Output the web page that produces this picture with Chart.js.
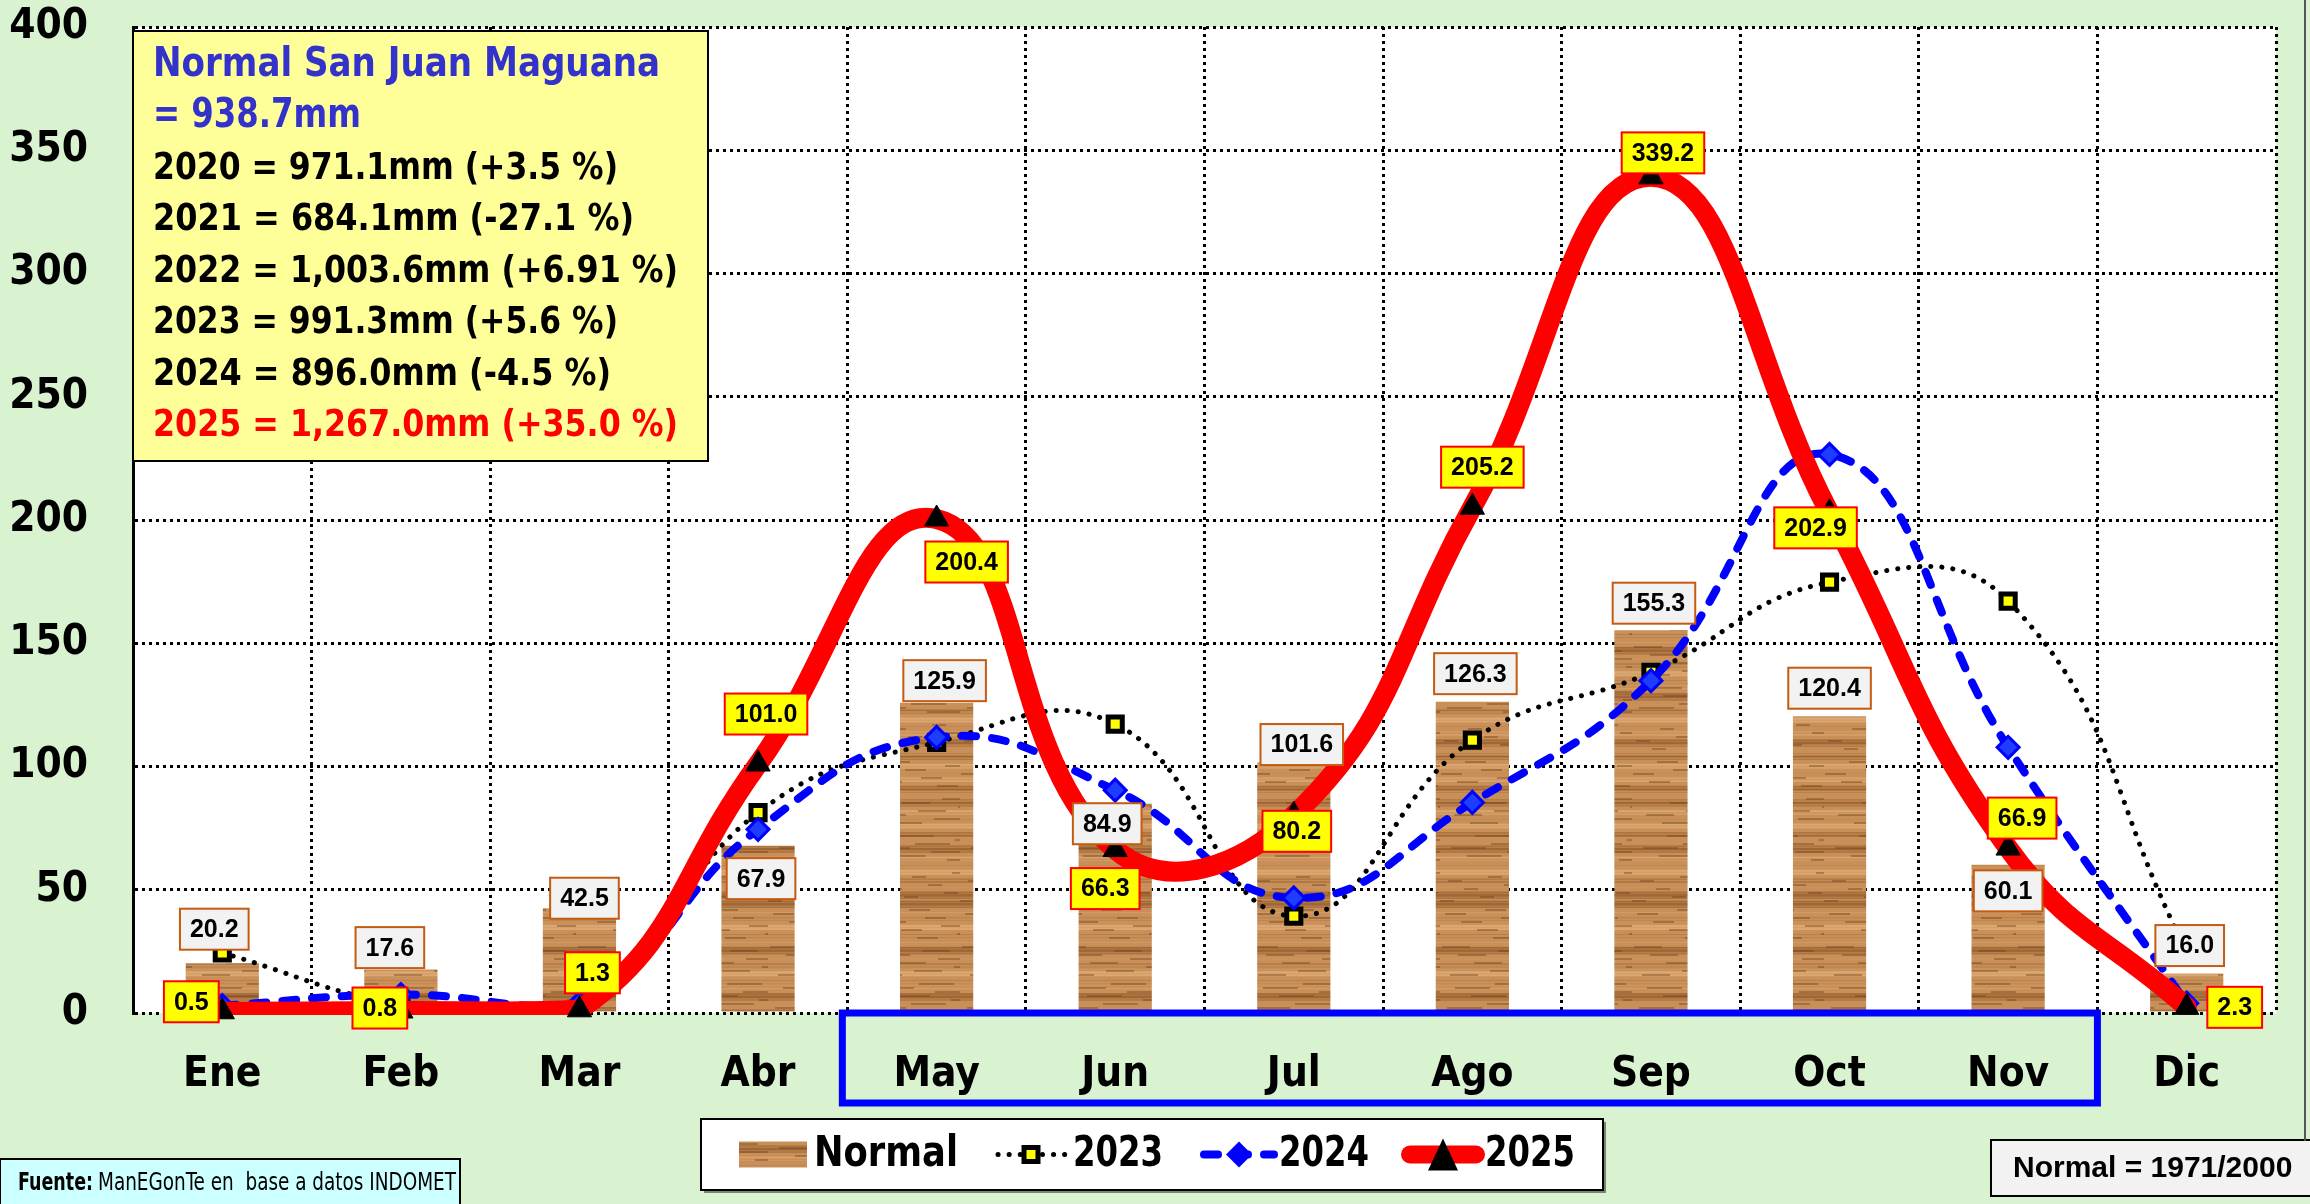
<!DOCTYPE html>
<html>
<head>
<meta charset="utf-8">
<script src="https://cdn.jsdelivr.net/npm/chart.js@4.4.1/dist/chart.umd.min.js"></script>
<style>
  html, body { margin: 0; padding: 0; background: #d9f2d0; }
  canvas { display: block; }
</style>
</head>
<body>
<canvas id="lluviaChart" width="2310" height="1204"></canvas>
<script>
const meses = ['Ene', 'Feb', 'Mar', 'Abr', 'May', 'Jun', 'Jul', 'Ago', 'Sep', 'Oct', 'Nov', 'Dic'];
const normal = [20.2, 17.6, 42.5, 67.9, 125.9, 84.9, 101.6, 126.3, 155.3, 120.4, 60.1, 16.0];
const lluvia2023 = [24.4, 3.5, 0.0, 81.3, 109.8, 117.2, 39.3, 110.7, 138.2, 174.8, 167.1, 25.0];
const lluvia2024 = [3.0, 7.5, 4.0, 74.5, 111.8, 90.4, 46.7, 85.4, 134.8, 226.6, 107.8, 4.0];
const lluvia2025 = [0.5, 0.8, 1.3, 101.0, 200.4, 66.3, 80.2, 205.2, 339.2, 202.9, 66.9, 2.3];
const yMin = 0, yMax = 400, yPaso = 50;

const tituloNota = ['Normal San Juan Maguana', '= 938.7mm'];
const lineasNota = [
    '2020 = 971.1mm (+3.5 %)',
    '2021 = 684.1mm (-27.1 %)',
    '2022 = 1,003.6mm (+6.91 %)',
    '2023 = 991.3mm (+5.6 %)',
    '2024 = 896.0mm (-4.5 %)',
    '2025 = 1,267.0mm (+35.0 %)'
];

// where each label box sits relative to its bar top / point (px)
const posNormal = [[-8, -34], [-11, -22], [5, -10], [3, 33], [8, -22], [-8, 20], [8, -18], [3, -28], [3, -27], [0, -28], [0, 26], [3, -28]];
const pos2025 = [[-31, -10], [-21, -3], [13, -37], [8, -50], [30, 43], [-10, 39], [3, 16], [10, -40], [12, -24], [-14, 15], [14, -30], [48, 0]];

const NARROW = '"Liberation Sans Narrow", "DejaVu Sans Condensed", "Roboto", sans-serif';
const ARIAL = '"Liberation Sans", Arial, sans-serif';

function crearMadera() {
    const c = document.createElement('canvas');
    c.width = 96; c.height = 300;
    const g = c.getContext('2d');
    g.fillStyle = '#c88f58';
    g.fillRect(0, 0, c.width, c.height);
    for (let y = 0; y < c.height; y++) {
        const t = Math.sin(y * 0.41) * 0.45 + Math.sin(y * 0.13 + 1.3) * 0.35 + Math.sin(y * 1.9 + 0.4) * 0.2;
        if (t > 0.2) {
            g.fillStyle = 'rgba(140, 85, 38,' + Math.min(0.7, (t - 0.2) * 1.3).toFixed(2) + ')';
            g.fillRect(0, y, c.width, 1);
        } else if (t < -0.25) {
            g.fillStyle = 'rgba(228, 178, 125,' + Math.min(0.7, (-t - 0.25) * 1.3).toFixed(2) + ')';
            g.fillRect(0, y, c.width, 1);
        }
    }
    for (let k = 0; k < 60; k++) {
        const y = (k * 37) % c.height;
        const x = (k * 53) % c.width;
        g.fillStyle = 'rgba(110, 62, 25, 0.4)';
        g.fillRect(x, y, 14 + (k % 4) * 7, 2);
    }
    return c;
}
const texturaCanvas = crearMadera();
const madera = document.getElementById('lluviaChart').getContext('2d').createPattern(texturaCanvas, 'repeat');

function etiqueta(ctx, texto, cx, cy, fondo, borde) {
    ctx.font = 'bold 25px ' + ARIAL;
    const w = ctx.measureText(texto).width + 20, h = 41;
    ctx.fillStyle = fondo;
    ctx.fillRect(cx - w / 2, cy - h / 2, w, h);
    ctx.strokeStyle = borde;
    ctx.lineWidth = 2;
    ctx.strokeRect(cx - w / 2, cy - h / 2, w, h);
    ctx.fillStyle = '#000';
    ctx.textAlign = 'center';
    ctx.textBaseline = 'middle';
    ctx.fillText(texto, cx, cy + 1);
}

function triangulo(ctx, x, y, r) {
    ctx.beginPath();
    ctx.moveTo(x, y - r);
    ctx.lineTo(x + r * 0.75, y + r * 0.6);
    ctx.lineTo(x - r * 0.75, y + r * 0.6);
    ctx.closePath();
    ctx.fill();
}

const fondoPlugin = {
    id: 'fondo',
    beforeDraw(chart) {
        const { ctx, chartArea: a } = chart;
        ctx.save();
        ctx.fillStyle = '#d9f2d0';
        ctx.fillRect(0, 0, chart.width, chart.height);
        ctx.fillStyle = '#ffffff';
        ctx.fillRect(a.left, a.top, a.right - a.left, a.bottom - a.top);
        ctx.restore();
    }
};

const etiquetasPlugin = {
    id: 'etiquetas',
    afterDatasetsDraw(chart) {
        const ctx = chart.ctx;
        ctx.save();
        chart.getDatasetMeta(0).data.forEach((el, i) => {
            etiqueta(ctx, normal[i].toFixed(1), el.x + posNormal[i][0], el.y + posNormal[i][1], '#f2f2f2', '#c55a11');
        });
        chart.getDatasetMeta(4).data.forEach((el, i) => {
            etiqueta(ctx, lluvia2025[i].toFixed(1), el.x + pos2025[i][0], el.y + pos2025[i][1], '#ffff00', '#ff0000');
        });
        ctx.restore();
    }
};

const adornosPlugin = {
    id: 'adornos',
    afterDraw(chart) {
        const ctx = chart.ctx;
        const a = chart.chartArea;
        const x = chart.scales.x;
        const mitad = (x.getPixelForValue(1) - x.getPixelForValue(0)) / 2;
        ctx.save();

        // nota amarilla
        ctx.fillStyle = '#ffff99';
        ctx.fillRect(a.left, 31, 575, 430);
        ctx.strokeStyle = '#000';
        ctx.lineWidth = 2;
        ctx.strokeRect(a.left, 31, 575, 430);
        ctx.textAlign = 'left';
        ctx.textBaseline = 'middle';
        ctx.font = 'bold 40px ' + NARROW;
        ctx.fillStyle = '#3333cc';
        ctx.fillText(tituloNota[0], a.left + 20, 66, 507);
        ctx.fillText(tituloNota[1], a.left + 20, 117, 208);
        ctx.font = 'bold 38px ' + NARROW;
        const anchos = [465, 481, 525, 465, 458, 525];
        lineasNota.forEach((t, i) => {
            ctx.fillStyle = i === lineasNota.length - 1 ? '#ff0000' : '#000';
            ctx.fillText(t, a.left + 20, 169 + i * 51.5, anchos[i]);
        });

        // marco azul May-Nov
        ctx.strokeStyle = '#0000ff';
        ctx.lineWidth = 7;
        const x1 = x.getPixelForValue(4) - mitad - 5;
        const x2 = x.getPixelForValue(10) + mitad;
        ctx.strokeRect(x1, a.bottom, x2 - x1, 90);

        // leyenda
        const lx = 701, ly = 1119, lw = 902, lh = 71, cy = ly + lh / 2;
        ctx.fillStyle = 'rgba(0,0,0,0.45)';
        ctx.fillRect(lx + 3, ly + 3, lw, lh);
        ctx.fillStyle = '#fff';
        ctx.fillRect(lx, ly, lw, lh);
        ctx.strokeStyle = '#000';
        ctx.lineWidth = 2;
        ctx.strokeRect(lx, ly, lw, lh);
        ctx.fillStyle = madera;
        ctx.fillRect(739, cy - 13, 68, 26);
        // 2023
        ctx.strokeStyle = '#000';
        ctx.lineWidth = 5;
        ctx.lineCap = 'round';
        ctx.setLineDash([0.1, 11]);
        ctx.beginPath(); ctx.moveTo(998, cy); ctx.lineTo(1068, cy); ctx.stroke();
        ctx.setLineDash([]);
        ctx.fillStyle = '#ffff00';
        ctx.lineWidth = 5;
        ctx.fillRect(1024, cy - 7, 14, 14);
        ctx.strokeRect(1024, cy - 7, 14, 14);
        // 2024
        ctx.strokeStyle = '#0000ff';
        ctx.lineWidth = 8;
        ctx.setLineDash([14, 16]);
        ctx.beginPath(); ctx.moveTo(1204, cy); ctx.lineTo(1274, cy); ctx.stroke();
        ctx.setLineDash([]);
        ctx.fillStyle = '#0000ff';
        ctx.beginPath();
        ctx.moveTo(1239, cy - 13); ctx.lineTo(1252, cy); ctx.lineTo(1239, cy + 13); ctx.lineTo(1226, cy);
        ctx.closePath(); ctx.fill();
        // 2025
        ctx.strokeStyle = '#ff0000';
        ctx.lineWidth = 18;
        ctx.beginPath(); ctx.moveTo(1410, cy); ctx.lineTo(1476, cy); ctx.stroke();
        ctx.fillStyle = '#000';
        triangulo(ctx, 1443, cy + 4, 20);
        ctx.fillStyle = '#000';
        ctx.font = 'bold 42px ' + NARROW;
        ctx.textBaseline = 'middle';
        ctx.fillText('Normal', 814, cy + 1, 144);
        ctx.fillText('2023', 1073, cy + 1, 90);
        ctx.fillText('2024', 1279, cy + 1, 90);
        ctx.fillText('2025', 1485, cy + 1, 90);

        // fuente
        ctx.fillStyle = '#ccffff';
        ctx.fillRect(0, 1159, 460, 48);
        ctx.strokeStyle = '#000';
        ctx.lineWidth = 2;
        ctx.strokeRect(0, 1159, 460, 48);
        ctx.fillStyle = '#000';
        ctx.font = 'bold 25px ' + NARROW;
        ctx.fillText('Fuente:', 18, 1183, 75);
        ctx.font = '25px ' + NARROW;
        ctx.fillText('ManEGonTe en  base a datos INDOMET', 98, 1183, 358);

        // periodo normal
        ctx.fillStyle = '#f2f2f2';
        ctx.fillRect(1991, 1140, 330, 56);
        ctx.strokeStyle = '#000';
        ctx.strokeRect(1991, 1140, 330, 56);
        ctx.fillStyle = '#000';
        ctx.font = 'bold 30px ' + ARIAL;
        ctx.fillText('Normal = 1971/2000', 2013, 1169, 284);

        // borde derecho
        ctx.strokeStyle = '#555';
        ctx.lineWidth = 2;
        ctx.beginPath(); ctx.moveTo(2305, 0); ctx.lineTo(2305, 1140); ctx.stroke();
        ctx.restore();
    }
};

const ctx = document.getElementById('lluviaChart').getContext('2d');

new Chart(ctx, {
    type: 'bar',
    data: {
        labels: meses,
        datasets: [
            {
                label: 'Normal',
                data: normal,
                backgroundColor: madera,
                barPercentage: 0.41,
                categoryPercentage: 1,
                order: 5
            },
            {
                type: 'line',
                label: '2023',
                data: lluvia2023,
                borderColor: '#000',
                borderWidth: 5,
                borderDash: [0.1, 11],
                borderCapStyle: 'round',
                tension: 0.45,
                pointStyle: 'rect',
                pointRadius: 10,
                pointBorderWidth: 5,
                pointBackgroundColor: '#ffff00',
                pointBorderColor: '#000',
                clip: { left: 0, top: 0, right: 0, bottom: 0 },
                order: 4
            },
            {
                type: 'line',
                label: '2024',
                data: lluvia2024,
                borderColor: '#0000ff',
                borderWidth: 8,
                borderDash: [14, 16],
                borderCapStyle: 'round',
                tension: 0.45,
                pointStyle: 'rectRot',
                pointRadius: 11,
                pointBorderWidth: 3,
                pointBackgroundColor: '#1f3dff',
                pointBorderColor: '#0000ff',
                clip: { left: 0, top: 0, right: 0, bottom: 2 },
                order: 3
            },
            {
                type: 'line',
                label: '2025',
                data: lluvia2025,
                borderColor: '#ff0000',
                borderWidth: 20,
                borderCapStyle: 'round',
                tension: 0.45,
                pointRadius: 0,
                clip: { left: 10, top: 10, right: 10, bottom: 2 },
                order: 2
            },
            {
                type: 'line',
                label: '2025 marcas',
                data: lluvia2025,
                showLine: false,
                pointStyle: 'triangle',
                pointRadius: 14,
                pointBackgroundColor: '#000',
                pointBorderColor: '#000',
                pointBorderWidth: 1,
                clip: false,
                order: 1
            }
        ]
    },
    options: {
        responsive: false,
        animation: false,
        layout: {
            padding: { left: 0, top: 27, right: 34, bottom: 91 }
        },
        plugins: {
            legend: { display: false },
            tooltip: { enabled: false }
        },
        scales: {
            x: {
                grid: {
                    offset: true,
                    color: '#000',
                    lineWidth: 3,
                    drawTicks: false
                },
                border: { display: false, dash: [3, 4] },
                ticks: {
                    color: '#000',
                    padding: 37,
                    font: { family: NARROW, size: 42, weight: 'bold' }
                },
                afterFit(scale) {
                    scale.height = 100;
                    scale.paddingLeft = 0;
                    scale.paddingRight = 0;
                }
            },
            y: {
                min: yMin,
                max: yMax,
                grid: {
                    color: '#000',
                    lineWidth: 3,
                    drawTicks: false
                },
                border: { display: true, color: '#000', width: 3, dash: [3, 4] },
                ticks: {
                    stepSize: yPaso,
                    color: '#000',
                    padding: 45,
                    font: { family: NARROW, size: 42, weight: 'bold' }
                },
                afterFit(scale) {
                    scale.width = 133;
                    scale.paddingTop = 0;
                    scale.paddingBottom = 0;
                }
            }
        }
    },
    plugins: [fondoPlugin, etiquetasPlugin, adornosPlugin]
});
</script>
</body>
</html>
